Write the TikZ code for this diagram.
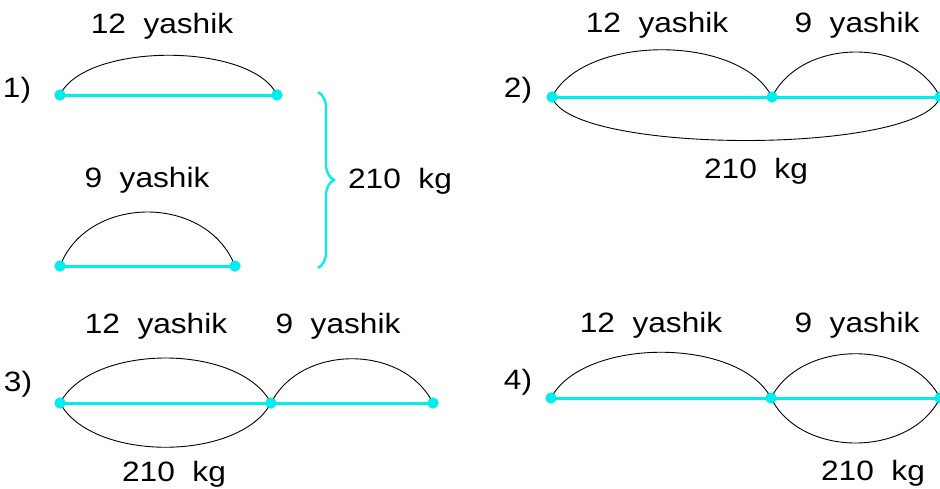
\documentclass[tikz,border=0pt]{standalone}
\usepackage{fontspec}
\setmainfont{Liberation Sans}
\usepackage{graphicx}
\usetikzlibrary{decorations.pathreplacing}
\newcommand\sx[1]{\scalebox{1.13}[1]{#1}}
\definecolor{segc}{RGB}{0,238,238}
\tikzset{
  lbl/.style={font=\fontsize{28}{32}\selectfont, anchor=base, inner sep=0pt},
  dot/.style={circle, fill=segc, draw=none, minimum size=11pt, inner sep=0pt},
  seg/.style={draw=segc, line width=3pt},
  arcl/.style={draw=black, line width=0.9pt},
  bracec/.style={draw=segc, line width=2.3pt, decorate, decoration={brace, amplitude=16pt}}
}
\begin{document}
\begin{tikzpicture}[x=1pt, y=-1pt]
\useasboundingbox (0,0) rectangle (940,488);

% ---------- panel 1 ----------
\node[lbl] (n1) at (17,97) {\sx{1)}};
\node[lbl] (t1a) at (162,33) {\sx{12\ \ yashik}};
\node[lbl] (t1b) at (147,187) {\sx{9\ \ yashik}};
\node[lbl] (t1c) at (400,188) {\sx{210\ \ kg}};
\node[dot] (p1a) at (60,95) {};
\node[dot] (p1b) at (277,95) {};
\node[dot] (q1a) at (60,266) {};
\node[dot] (q1b) at (235,266) {};
\draw[arcl] (p1a.center) .. controls +(25,-53) and +(-25,-53) .. (p1b.center);
\draw[arcl] (q1a.center) .. controls +(28,-72) and +(-28,-72) .. (q1b.center);
\draw[seg] (p1a.center) -- (p1b.center);
\draw[seg] (q1a.center) -- (q1b.center);
\node[dot] at (p1a) {};
\node[dot] at (p1b) {};
\node[dot] at (q1a) {};
\node[dot] at (q1b) {};
\coordinate (b1) at (318,92);
\coordinate (b2) at (318,268);
\draw[bracec] (b1) -- (b2);

% ---------- panel 2 ----------
\node[lbl] (n2) at (518,97) {\sx{2)}};
\node[lbl] (t2a) at (657,32) {\sx{12\ \ yashik}};
\node[lbl] (t2b) at (857,32) {\sx{9\ \ yashik}};
\node[lbl] (t2c) at (756,178) {\sx{210\ \ kg}};
\node[dot] (p2a) at (552,97) {};
\node[dot] (p2b) at (772,97) {};
\node[dot] (p2c) at (940,97) {};
\draw[arcl] (p2a.center) .. controls +(32,-63) and +(-32,-63) .. (p2b.center);
\draw[arcl] (p2b.center) .. controls +(30,-60) and +(-30,-60) .. (p2c.center);
\draw[arcl] (p2a.center) .. controls +(18,58) and +(-18,58) .. (p2c.center);
\draw[seg] (p2a.center) -- (p2b.center) -- (p2c.center);
\node[dot] at (p2a) {};
\node[dot] at (p2b) {};
\node[dot] at (p2c) {};

% ---------- panel 3 ----------
\node[lbl] (n3) at (18,391) {\sx{3)}};
\node[lbl] (t3a) at (156,333) {\sx{12\ \ yashik}};
\node[lbl] (t3b) at (338,333) {\sx{9\ \ yashik}};
\node[lbl] (t3c) at (174,481) {\sx{210\ \ kg}};
\node[dot] (p3a) at (60,403) {};
\node[dot] (p3b) at (271,403) {};
\node[dot] (p3c) at (433,403) {};
\draw[arcl] (p3a.center) .. controls +(32,-60) and +(-32,-60) .. (p3b.center);
\draw[arcl] (p3b.center) .. controls +(30,-59) and +(-30,-59) .. (p3c.center);
\draw[arcl] (p3a.center) .. controls +(32,59) and +(-32,59) .. (p3b.center);
\draw[seg] (p3a.center) -- (p3b.center) -- (p3c.center);
\node[dot] at (p3a) {};
\node[dot] at (p3b) {};
\node[dot] at (p3c) {};

% ---------- panel 4 ----------
\node[lbl] (n4) at (518,389) {\sx{4)}};
\node[lbl] (t4a) at (651,332) {\sx{12\ \ yashik}};
\node[lbl] (t4b) at (857,332) {\sx{9\ \ yashik}};
\node[lbl] (t4c) at (873,480) {\sx{210\ \ kg}};
\node[dot] (p4a) at (551,398) {};
\node[dot] (p4b) at (771,398) {};
\node[dot] (p4c) at (940,398) {};
\draw[arcl] (p4a.center) .. controls +(32,-61) and +(-32,-61) .. (p4b.center);
\draw[arcl] (p4b.center) .. controls +(30,-59) and +(-30,-59) .. (p4c.center);
\draw[arcl] (p4b.center) .. controls +(30,60) and +(-30,60) .. (p4c.center);
\draw[seg] (p4a.center) -- (p4b.center) -- (p4c.center);
\node[dot] at (p4a) {};
\node[dot] at (p4b) {};
\node[dot] at (p4c) {};
\end{tikzpicture}
\end{document}
